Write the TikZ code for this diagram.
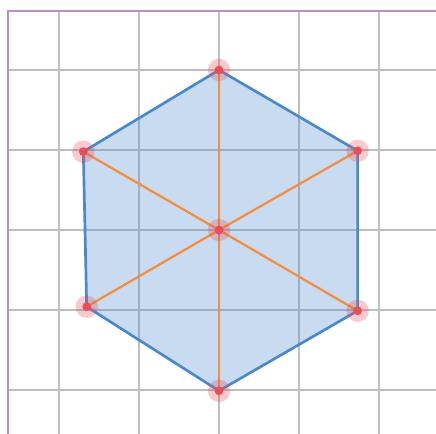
\documentclass[tikz,border=0pt]{standalone}
\definecolor{hexblue}{RGB}{74,136,204}
\definecolor{spoke}{RGB}{242,142,62}
\definecolor{vtxred}{RGB}{232,78,88}
\definecolor{framecol}{RGB}{192,140,200}
\begin{document}
\begin{tikzpicture}[x=1cm,y=1cm]
\useasboundingbox (-2.7375,-2.55) rectangle (2.7125,2.875);
% grid and frame
\foreach \x in {-2,...,2} \draw[gray!50,line width=0.6pt] (\x,-2.55)--(\x,2.7375);
\foreach \y in {-2,...,2} \draw[gray!50,line width=0.6pt] (-2.634,\y)--(2.7125,\y);
\draw[framecol,line width=0.6pt] (-2.634,-2.55)--(-2.634,2.7375)--(2.7125,2.7375);
% hexagon corners
\coordinate (c) at (0,0);
\coordinate (p1) at (0,2.0);
\coordinate (p2) at (1.733,0.99);
\coordinate (p3) at (1.733,-1.01);
\coordinate (p4) at (0,-2.01);
\coordinate (p5) at (-1.654,-0.959);
\coordinate (p6) at (-1.696,0.979);
\fill[hexblue,opacity=0.3] (p1)--(p2)--(p3)--(p4)--(p5)--(p6)--cycle;
\draw[hexblue,line width=0.95pt,line join=round] (p1)--(p2)--(p3)--(p4)--(p5)--(p6)--cycle;
\foreach \v in {p1,p2,p3,p4,p5,p6} \draw[spoke,line width=0.8pt] (c)--(\v);
\foreach \v in {c,p1,p2,p3,p4,p5,p6} {
  \fill[vtxred,opacity=0.3] (\v) circle (0.14);
  \fill[vtxred] (\v) circle (0.055);
}
\end{tikzpicture}
\end{document}
